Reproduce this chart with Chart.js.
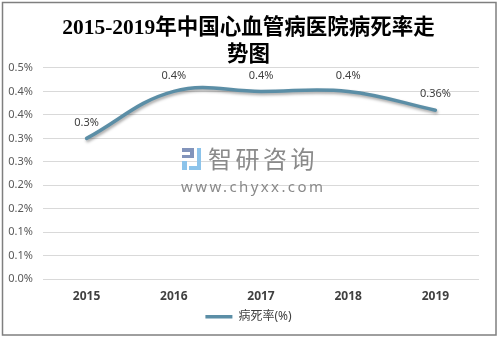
<!DOCTYPE html>
<html>
<head>
<meta charset="utf-8">
<script src="https://cdn.jsdelivr.net/npm/chart.js@4.4.0/dist/chart.umd.min.js"></script>
<style>
  html, body { margin: 0; padding: 0; background: #fff; }
  canvas { display: block; }
</style>
</head>
<body>
<canvas id="chart" width="499" height="340"></canvas>
<script>
// chart data
const years = ['2015', '2016', '2017', '2018', '2019'];
const deathRate = [0.30, 0.40, 0.40, 0.40, 0.36];
const yTickLabels = ['0.0%', '0.1%', '0.1%', '0.2%', '0.2%', '0.3%', '0.3%', '0.4%', '0.4%', '0.5%'];
const seriesName = '病死率(%)';
const titleLines = ['2015-2019年中国心血管病医院病死率走', '势图'];

const lineColor = '#5b8ea6';
const sansFont = "'Noto Sans', 'Noto Sans CJK SC', sans-serif";

// outer frame
const framePlugin = {
    id: 'frame',
    beforeDraw(chart) {
        const ctx = chart.ctx;
        ctx.save();
        ctx.fillStyle = '#fff';
        ctx.fillRect(0, 0, chart.width, chart.height);
        ctx.strokeStyle = '#7f7f7f';
        ctx.lineWidth = 1.5;
        ctx.strokeRect(2.5, 2.5, 493.5, 332.5);
        ctx.restore();
    }
};

// watermark in the middle of the plot
const watermarkPlugin = {
    id: 'watermark',
    beforeDatasetsDraw(chart) {
        const ctx = chart.ctx;
        ctx.save();
        // rough logo
        ctx.fillStyle = '#8294bb';
        ctx.fillRect(182, 148, 12, 4);
        ctx.fillRect(190, 148, 4, 10);
        ctx.fillRect(182, 155, 12, 3);
        ctx.fillStyle = '#8cc3ea';
        ctx.fillRect(182, 161, 5, 9);
        ctx.fillRect(197, 148, 4, 22);
        ctx.fillRect(189, 166, 12, 4);

        ctx.fillStyle = '#8a8a8a';
        ctx.textBaseline = 'middle';
        ctx.textAlign = 'left';
        ctx.font = "24px 'Noto Sans CJK SC', sans-serif";
        if ('letterSpacing' in ctx) ctx.letterSpacing = '3.5px';
        ctx.fillText('智研咨询', 208, 159);
        ctx.font = "15px 'Noto Sans', sans-serif";
        if ('letterSpacing' in ctx) ctx.letterSpacing = '2.4px';
        ctx.fillText('www.chyxx.com', 181, 188);
        ctx.restore();
    }
};

// shadow under the line
const shadowPlugin = {
    id: 'lineShadow',
    beforeDatasetDraw(chart) {
        const ctx = chart.ctx;
        ctx.save();
        ctx.shadowColor = 'rgba(0,0,0,0.35)';
        ctx.shadowBlur = 3;
        ctx.shadowOffsetX = 1;
        ctx.shadowOffsetY = 2;
    },
    afterDatasetDraw(chart) {
        chart.ctx.restore();
    }
};

// value labels above the points
const valueLabels = {
    id: 'valueLabels',
    afterDatasetsDraw(chart) {
        const ctx = chart.ctx;
        const meta = chart.getDatasetMeta(0);
        ctx.save();
        ctx.font = '11px ' + sansFont;
        ctx.fillStyle = '#404040';
        ctx.textAlign = 'center';
        ctx.textBaseline = 'middle';
        meta.data.forEach((pt, i) => {
            ctx.fillText(deathRate[i] + '%', pt.x, pt.y - 16);
        });
        ctx.restore();
    }
};

new Chart(document.getElementById('chart'), {
    type: 'line',
    data: {
        labels: years,
        datasets: [{
            label: seriesName,
            data: deathRate,
            borderColor: lineColor,
            backgroundColor: lineColor,
            borderWidth: 3.5,
            borderCapStyle: 'round',
            tension: 0.4,
            pointRadius: 0,
            pointHoverRadius: 0,
            pointStyle: 'line',
            clip: false
        }]
    },
    options: {
        responsive: false,
        animation: false,
        layout: { padding: { left: 8, right: 10, top: 0, bottom: 7.3 } },
        plugins: {
            title: {
                display: true,
                text: titleLines,
                color: '#000',
                font: { family: "'Liberation Serif', 'Noto Sans CJK SC', serif", size: 21.5, weight: 'bold', lineHeight: 1.3 },
                padding: { top: 14, bottom: -2 }
            },
            legend: {
                position: 'bottom',
                labels: {
                    usePointStyle: true,
                    pointStyleWidth: 27,
                    padding: 7,
                    color: '#404040',
                    font: { family: sansFont, size: 12 }
                }
            },
            tooltip: { enabled: false }
        },
        scales: {
            x: {
                offset: true,
                grid: { display: false, drawTicks: false },
                border: { display: false },
                ticks: {
                    padding: 10,
                    color: '#404040',
                    font: { family: sansFont, size: 12, weight: 'bold' }
                },
                afterFit: s => { s.height = 24.4; }
            },
            y: {
                min: 0,
                max: 0.45,
                grid: { color: '#d9d9d9', drawTicks: false },
                border: { display: false },
                ticks: {
                    stepSize: 0.05,
                    padding: 10,
                    color: '#595959',
                    font: { family: sansFont, size: 11 },
                    callback: (v, i) => yTickLabels[i]
                },
                afterFit: s => { s.width = 35; }
            },
            // empty spacer on the right so the title and legend sit where the original has them
            spacer: {
                type: 'linear',
                position: 'right',
                grid: { display: false, drawTicks: false },
                border: { display: false },
                ticks: { display: false },
                afterFit: s => { s.width = 10; }
            }
        }
    },
    plugins: [framePlugin, watermarkPlugin, shadowPlugin, valueLabels]
});
</script>
</body>
</html>
